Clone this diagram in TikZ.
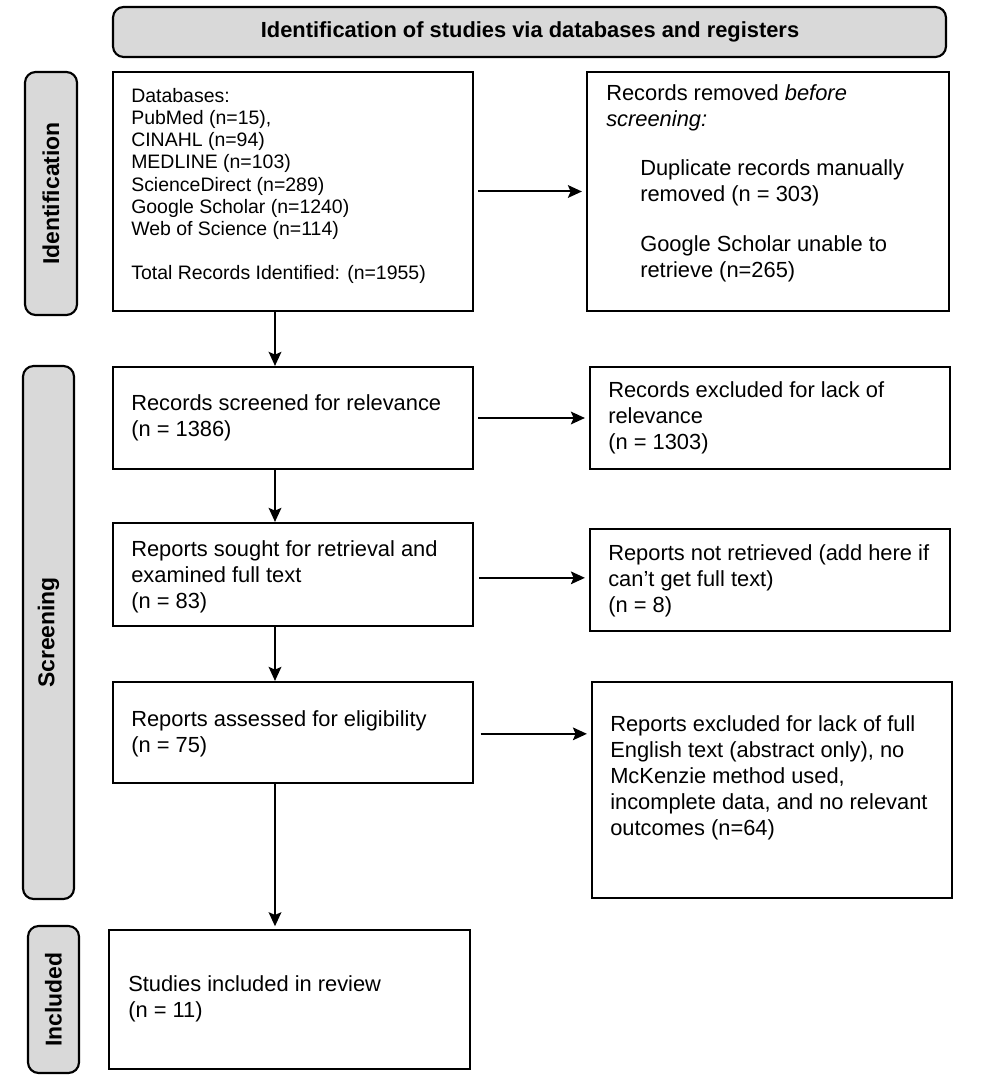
\documentclass[tikz,border=0pt]{standalone}
\usepackage{fontspec}
\setmainfont{Liberation Sans}
\usetikzlibrary{arrows.meta}
\definecolor{labgrey}{HTML}{D9D9D9}
\begin{document}
\begin{tikzpicture}[x=0.75pt,y=-0.75pt,
  box/.style={draw=black, line width=1.6pt, fill=white, inner sep=0pt},
  lab/.style={draw=black, line width=1.6pt, fill=labgrey, rounded corners=8pt, inner sep=0pt},
  txt/.style={anchor=west, align=left, inner sep=0pt, font=\fontsize{16.4}{19.5}\selectfont},
  smalltxt/.style={anchor=west, align=left, inner sep=0pt, font=\fontsize{14.6}{16.6}\selectfont},
  vlab/.style={rotate=90, inner sep=0pt, font=\fontsize{17.2}{20}\selectfont\bfseries},
  arr/.style={line width=1.5pt, -{Stealth[length=10.5pt,width=9.5pt,inset=2pt]}},
]
\useasboundingbox (0,0) rectangle (986,1084);

% banner and side labels
\node[lab, minimum width=833*0.75pt, minimum height=50*0.75pt] (banner) at (529.5,32) {};
\node[inner sep=0pt, font=\fontsize{16.4}{19}\selectfont\bfseries] (bannertxt) at (530,32) {Identification of studies via databases and registers};

\node[lab, minimum width=52*0.75pt, minimum height=243*0.75pt] (idlab) at (51,193.5) {};
\node[vlab] (idtxt) at (51,193.5) {Identification};
\node[lab, minimum width=51*0.75pt, minimum height=533*0.75pt] (scrlab) at (48.5,632.5) {};
\node[vlab] (scrtxt) at (48.5,632.5) {Screening};
\node[lab, minimum width=51*0.75pt, minimum height=147*0.75pt] (inclab) at (53.5,999.5) {};
\node[vlab] (inctxt) at (53.5,999.5) {Included};

% boxes
\node[box, minimum width=360*0.75pt, minimum height=239*0.75pt] (db) at (293,191.5) {};
\node[box, minimum width=362*0.75pt, minimum height=239*0.75pt] (rem) at (768,191.5) {};
\node[box, minimum width=360*0.75pt, minimum height=102*0.75pt] (scr) at (293,418) {};
\node[box, minimum width=360*0.75pt, minimum height=102*0.75pt] (exc) at (770,418) {};
\node[box, minimum width=360*0.75pt, minimum height=103*0.75pt] (sought) at (293,574.5) {};
\node[box, minimum width=360*0.75pt, minimum height=102*0.75pt] (nr) at (770,580) {};
\node[box, minimum width=360*0.75pt, minimum height=101*0.75pt] (ass) at (293,732.5) {};
\node[box, minimum width=360*0.75pt, minimum height=216*0.75pt] (exf) at (772,790) {};
\node[box, minimum width=361*0.75pt, minimum height=139*0.75pt] (stud) at (289.5,999.5) {};

% texts
\node[smalltxt] (dbt) at (131,186) {Databases:\\PubMed (n=15),\\CINAHL (n=94)\\MEDLINE (n=103)\\ScienceDirect (n=289)\\Google Scholar (n=1240)\\Web of Science (n=114)\\[16.6pt]Total Records Identified: (n=1955)};
\node[txt] (remt1) at (606,108) {Records removed \textit{before}\\\textit{screening:}};
\node[txt] (remt2) at (640,183) {Duplicate records manually\\removed (n = 303)};
\node[txt] (remt3) at (640,259) {Google Scholar unable to\\retrieve (n=265)};
\node[txt] (scrt) at (131,417.5) {Records screened for relevance\\(n = 1386)};
\node[txt] (exct) at (608,418) {Records excluded for lack of\\relevance\\(n = 1303)};
\node[txt] (soughtt) at (131,577) {Reports sought for retrieval and\\examined full text\\(n = 83)};
\node[txt] (nrt) at (608,580.5) {Reports not retrieved (add here if\\can’t get full text)\\(n = 8)};
\node[txt] (asst) at (131,734) {Reports assessed for eligibility\\(n = 75)};
\node[txt] (exft) at (610,778) {Reports excluded for lack of full\\English text (abstract only), no\\McKenzie method used,\\incomplete data, and no relevant\\outcomes (n=64)};
\node[txt] (studt) at (128,998.5) {Studies included in review\\(n = 11)};

% arrows
\coordinate (ax) at (275,0);
\draw[arr] (db.south -| ax) -- (scr.north -| ax);
\draw[arr] (scr.south -| ax) -- (sought.north -| ax);
\draw[arr] (sought.south -| ax) -- (ass.north -| ax);
\draw[arr, shorten >=2pt] (ass.south -| ax) -- (stud.north -| ax);

\draw[arr, shorten <=3pt, shorten >=3pt] (db.east) -- (rem.west);
\draw[arr, shorten <=3pt, shorten >=3pt] (scr.east) -- (scr.east -| exc.west);
\draw[arr, shorten <=4pt, shorten >=3pt] ([yshift=-2.5pt]sought.east) -- ([yshift=-2.5pt]sought.east -| nr.west);
\draw[arr, shorten <=5pt, shorten >=3pt] ([yshift=-1pt]ass.east) -- ([yshift=-1pt]ass.east -| exf.west);
\end{tikzpicture}
\end{document}
